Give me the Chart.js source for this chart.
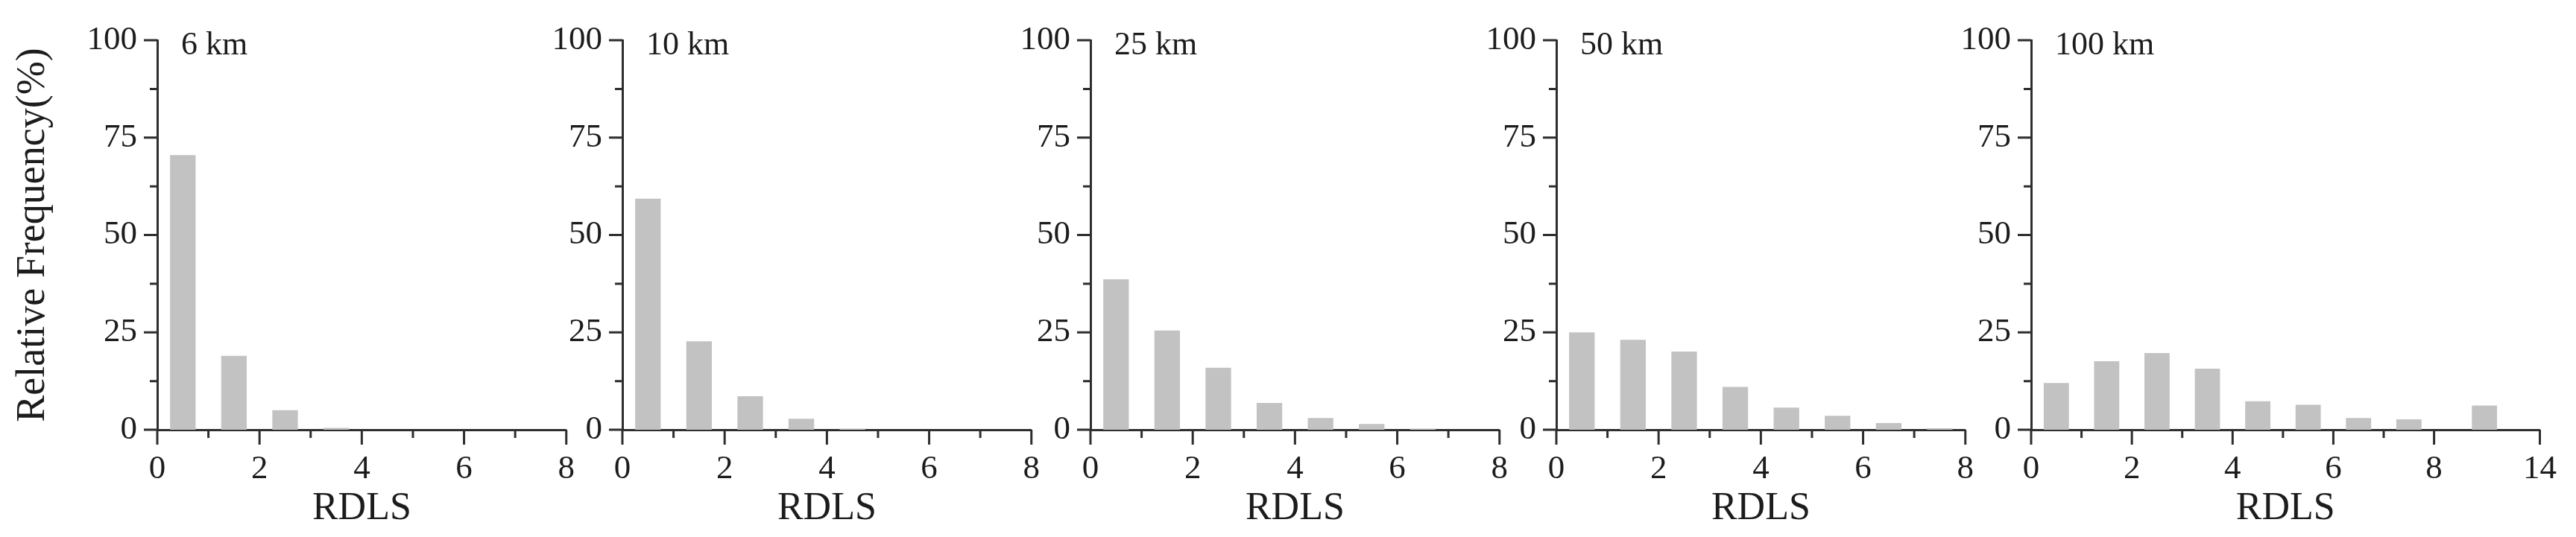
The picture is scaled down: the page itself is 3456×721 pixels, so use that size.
<!DOCTYPE html>
<html>
<head>
<meta charset="utf-8">
<title>RDLS relative frequency</title>
<script src="https://cdn.jsdelivr.net/npm/chart.js@4.4.1/dist/chart.umd.min.js"></script>
<style>
    html, body { margin: 0; padding: 0; background: #fff; }
    #wrap { position: relative; width: 3456px; height: 721px; overflow: hidden; }
    #wrap canvas { position: absolute; top: 0; }
</style>
</head>
<body>
<div id="wrap"></div>
<script>
// ===== data (bin centres on the RDLS axis, relative frequency in %)
const bins = [0.5, 1.5, 2.5, 3.5, 4.5, 5.5, 6.5, 7.5];
const bins100km = [0.5, 1.5, 2.5, 3.5, 4.5, 5.5, 6.5, 7.5, 9];

const freq6km = [70.5, 19.0, 5.0, 0.5, 0, 0, 0, 0];
const freq10km = [59.3, 22.7, 8.6, 2.8, 0.3, 0, 0, 0];
const freq25km = [38.6, 25.5, 15.9, 6.9, 3.0, 1.5, 0.3, 0];
const freq50km = [25.0, 23.1, 20.1, 11.0, 5.7, 3.6, 1.7, 0.4];
const freq100km = [12.0, 17.6, 19.7, 15.7, 7.3, 6.4, 3.0, 2.7, 6.2];

const panelLabels = ["6 km", "10 km", "25 km", "50 km", "100 km"];

// ===== tick labels
const yTicks = [0, 25, 50, 75, 100];
const yMinorTicks = [12.5, 37.5, 62.5, 87.5];
const xTicks = [0, 2, 4, 6, 8];
const xTickLabels = ["0", "2", "4", "6", "8"];
const xMinorTicks = [1, 3, 5, 7];
// last panel has a broken axis: 8 jumps to 14
const xTicks100km = [0, 2, 4, 6, 8, 10.1];
const xTickLabels100km = ["0", "2", "4", "6", "8", "14"];

// ===== look
const TEXT = "#1c1c1c";
const AXIS = "#2e2e2e";
const BAR = "#c2c2c2";
const SERIF = "'Liberation Serif', 'Times New Roman', serif";

Chart.defaults.font.family = SERIF;
Chart.defaults.color = TEXT;

const panels = [
    { label: panelLabels[0], x: bins, y: freq6km, axisX: 211, yWidth: 211, plotW: 552, xMax: 8, xt: xTicks, xl: xTickLabels, yTitle: true },
    { label: panelLabels[1], x: bins, y: freq10km, axisX: 835, yWidth: 130, plotW: 552, xMax: 8, xt: xTicks, xl: xTickLabels },
    { label: panelLabels[2], x: bins, y: freq25km, axisX: 1463, yWidth: 130, plotW: 552, xMax: 8, xt: xTicks, xl: xTickLabels },
    { label: panelLabels[3], x: bins, y: freq50km, axisX: 2088, yWidth: 130, plotW: 552, xMax: 8, xt: xTicks, xl: xTickLabels },
    { label: panelLabels[4], x: bins100km, y: freq100km, axisX: 2725, yWidth: 130, plotW: 697, xMax: 10.1, xt: xTicks100km, xl: xTickLabels100km },
];

const TOP = 40;        // pixel of y = 100
const X_AXIS_H = 144;  // 721 - pixel of y = 0
const RIGHT_PAD = 34;

// ===== outward tick marks + panel label
function makeFramePlugin(p) {
    return {
        id: "frame",
        afterDraw(chart) {
            const { ctx, chartArea: a, scales } = chart;
            const x = scales.x, y = scales.y;
            ctx.save();
            ctx.strokeStyle = AXIS;
            ctx.lineWidth = 3;
            ctx.beginPath();
            p.xt.forEach((v) => {
                const px = x.getPixelForValue(v);
                ctx.moveTo(px, a.bottom);
                ctx.lineTo(px, a.bottom + 20);
            });
            xMinorTicks.forEach((v) => {
                const px = x.getPixelForValue(v);
                ctx.moveTo(px, a.bottom);
                ctx.lineTo(px, a.bottom + 11);
            });
            yTicks.forEach((v) => {
                const py = y.getPixelForValue(v);
                ctx.moveTo(a.left, py);
                ctx.lineTo(a.left - 18, py);
            });
            yMinorTicks.forEach((v) => {
                const py = y.getPixelForValue(v);
                ctx.moveTo(a.left, py);
                ctx.lineTo(a.left - 10, py);
            });
            ctx.stroke();

            ctx.fillStyle = TEXT;
            ctx.font = "44px " + SERIF;
            ctx.textAlign = "left";
            ctx.textBaseline = "alphabetic";
            ctx.fillText(p.label, a.left + 32, 73);
            ctx.restore();
        },
    };
}

function makePanel(p) {
    const canvas = document.createElement("canvas");
    const w = p.yWidth + p.plotW + RIGHT_PAD;
    canvas.width = w;
    canvas.height = 721;
    canvas.style.left = p.axisX - p.yWidth + "px";
    canvas.style.width = w + "px";
    canvas.style.height = "721px";
    document.getElementById("wrap").appendChild(canvas);

    return new Chart(canvas, {
        type: "bar",
        data: {
            datasets: [
                {
                    data: p.x.map((v, i) => ({ x: v, y: p.y[i] })),
                    backgroundColor: BAR,
                    borderWidth: 0,
                    barPercentage: 0.5,
                    categoryPercentage: 1,
                },
            ],
        },
        options: {
            responsive: false,
            animation: false,
            devicePixelRatio: 1,
            layout: { padding: { top: TOP, right: RIGHT_PAD, bottom: 0, left: 0 } },
            plugins: { legend: { display: false }, tooltip: { enabled: false } },
            scales: {
                x: {
                    type: "linear",
                    min: 0,
                    max: p.xMax,
                    offset: false,
                    grid: { display: false, drawTicks: false, offset: false },
                    border: { display: true, color: AXIS, width: 3 },
                    afterBuildTicks: (scale) => {
                        scale.ticks = p.xt.map((v) => ({ value: v }));
                    },
                    afterFit: (scale) => {
                        scale.height = X_AXIS_H;
                    },
                    ticks: {
                        autoSkip: false,
                        maxRotation: 0,
                        padding: 26,
                        font: { size: 45 },
                        color: TEXT,
                        callback: (v, i) => p.xl[i],
                    },
                    title: {
                        display: true,
                        text: "RDLS",
                        color: TEXT,
                        font: { size: 52 },
                        padding: { top: 0, bottom: 6 },
                    },
                },
                y: {
                    min: 0,
                    max: 100,
                    grid: { display: false, drawTicks: false },
                    border: { display: true, color: AXIS, width: 3 },
                    afterBuildTicks: (scale) => {
                        scale.ticks = yTicks.map((v) => ({ value: v }));
                    },
                    afterFit: (scale) => {
                        scale.width = p.yWidth;
                    },
                    ticks: {
                        padding: 27,
                        font: { size: 45 },
                        color: TEXT,
                    },
                    title: {
                        display: !!p.yTitle,
                        text: "Relative Frequency(%)",
                        color: TEXT,
                        font: { size: 54 },
                        padding: { top: 12, bottom: 0 },
                    },
                },
            },
        },
        plugins: [makeFramePlugin(p)],
    });
}

panels.forEach(makePanel);
</script>
</body>
</html>
